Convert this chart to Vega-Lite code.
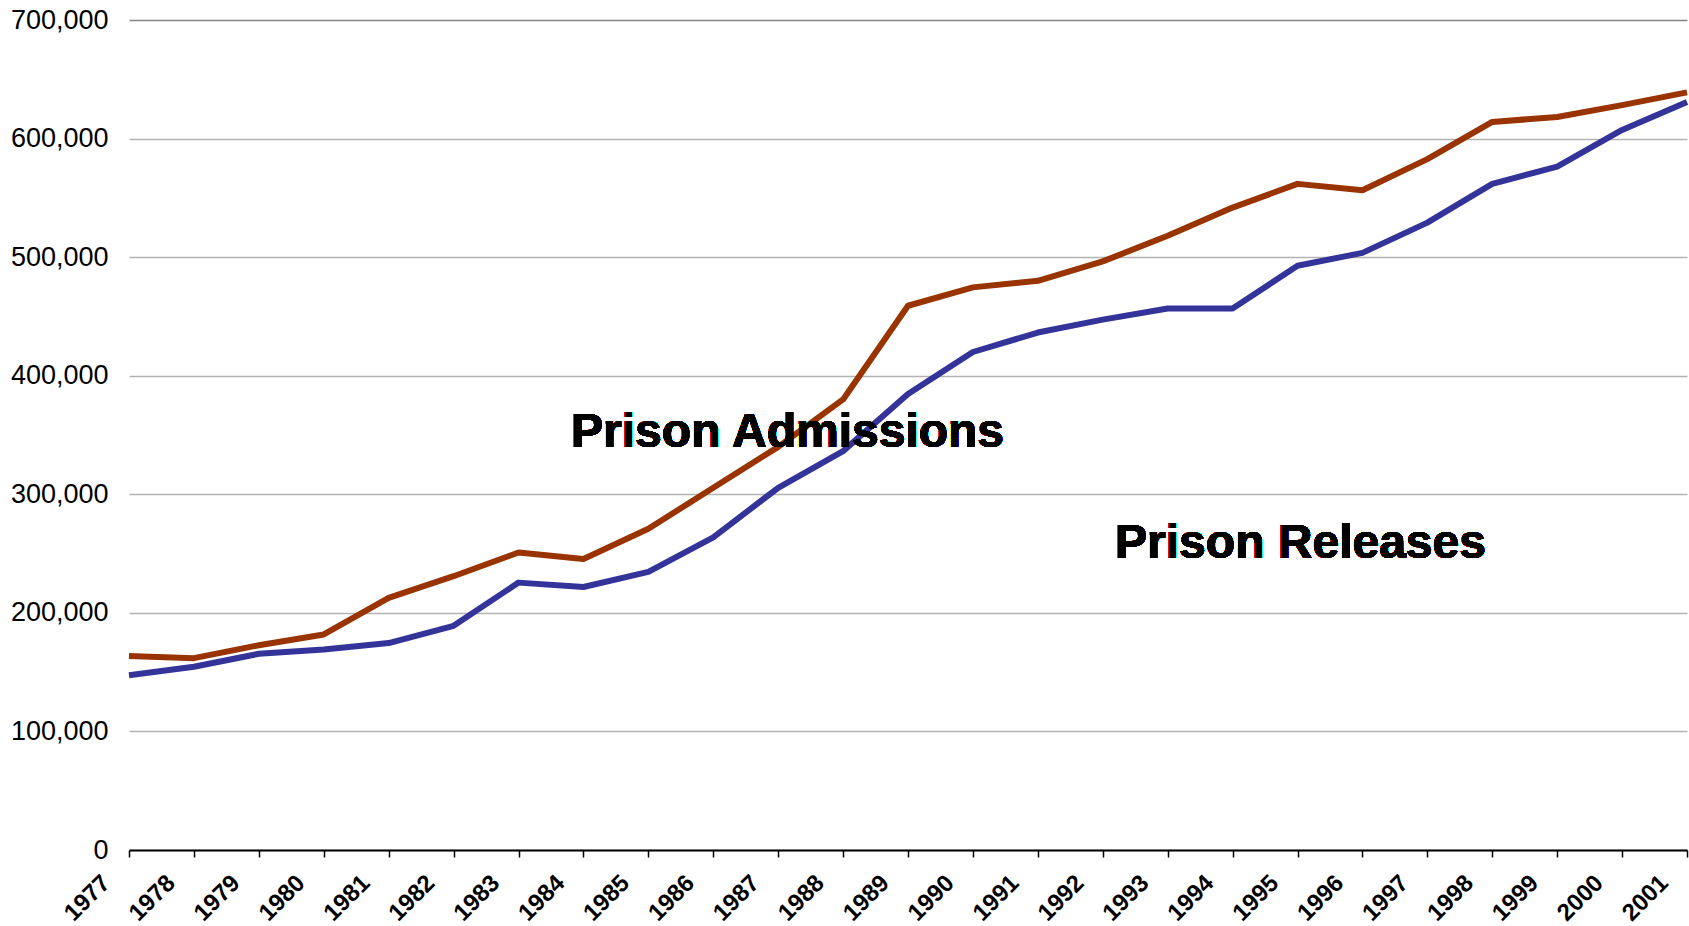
{
  "$schema": "https://vega.github.io/schema/vega-lite/v6.json",
  "width": 1558,
  "height": 830,
  "autosize": {"type": "none"},
  "padding": {"left": 129, "top": 20, "right": 2, "bottom": 76},
  "background": "white",
  "config": {"view": {"stroke": null}, "font": "Liberation Sans"},
  "data": {
    "values": [
      {"year": 1977, "series": "Prison Admissions", "value": 163600},
      {"year": 1978, "series": "Prison Admissions", "value": 161800},
      {"year": 1979, "series": "Prison Admissions", "value": 172700},
      {"year": 1980, "series": "Prison Admissions", "value": 181800},
      {"year": 1981, "series": "Prison Admissions", "value": 212700},
      {"year": 1982, "series": "Prison Admissions", "value": 230900},
      {"year": 1983, "series": "Prison Admissions", "value": 250900},
      {"year": 1984, "series": "Prison Admissions", "value": 245500},
      {"year": 1985, "series": "Prison Admissions", "value": 270900},
      {"year": 1986, "series": "Prison Admissions", "value": 305500},
      {"year": 1987, "series": "Prison Admissions", "value": 340000},
      {"year": 1988, "series": "Prison Admissions", "value": 380000},
      {"year": 1989, "series": "Prison Admissions", "value": 459000},
      {"year": 1990, "series": "Prison Admissions", "value": 474500},
      {"year": 1991, "series": "Prison Admissions", "value": 480000},
      {"year": 1992, "series": "Prison Admissions", "value": 496400},
      {"year": 1993, "series": "Prison Admissions", "value": 518000},
      {"year": 1994, "series": "Prison Admissions", "value": 541800},
      {"year": 1995, "series": "Prison Admissions", "value": 561800},
      {"year": 1996, "series": "Prison Admissions", "value": 556400},
      {"year": 1997, "series": "Prison Admissions", "value": 582700},
      {"year": 1998, "series": "Prison Admissions", "value": 614000},
      {"year": 1999, "series": "Prison Admissions", "value": 618200},
      {"year": 2000, "series": "Prison Admissions", "value": 628200},
      {"year": 2001, "series": "Prison Admissions", "value": 639000},
      {"year": 1977, "series": "Prison Releases", "value": 147300},
      {"year": 1978, "series": "Prison Releases", "value": 154500},
      {"year": 1979, "series": "Prison Releases", "value": 165500},
      {"year": 1980, "series": "Prison Releases", "value": 169100},
      {"year": 1981, "series": "Prison Releases", "value": 174500},
      {"year": 1982, "series": "Prison Releases", "value": 189100},
      {"year": 1983, "series": "Prison Releases", "value": 225500},
      {"year": 1984, "series": "Prison Releases", "value": 221800},
      {"year": 1985, "series": "Prison Releases", "value": 234500},
      {"year": 1986, "series": "Prison Releases", "value": 263600},
      {"year": 1987, "series": "Prison Releases", "value": 305500},
      {"year": 1988, "series": "Prison Releases", "value": 336400},
      {"year": 1989, "series": "Prison Releases", "value": 384500},
      {"year": 1990, "series": "Prison Releases", "value": 420000},
      {"year": 1991, "series": "Prison Releases", "value": 436400},
      {"year": 1992, "series": "Prison Releases", "value": 447300},
      {"year": 1993, "series": "Prison Releases", "value": 456700},
      {"year": 1994, "series": "Prison Releases", "value": 456700},
      {"year": 1995, "series": "Prison Releases", "value": 492700},
      {"year": 1996, "series": "Prison Releases", "value": 503600},
      {"year": 1997, "series": "Prison Releases", "value": 529100},
      {"year": 1998, "series": "Prison Releases", "value": 561800},
      {"year": 1999, "series": "Prison Releases", "value": 576400},
      {"year": 2000, "series": "Prison Releases", "value": 607300},
      {"year": 2001, "series": "Prison Releases", "value": 630900}
    ]
  },
  "layer": [
    {
      "mark": {"type": "line", "strokeWidth": 6, "strokeJoin": "round"},
      "encoding": {
        "x": {
          "field": "year",
          "type": "quantitative",
          "scale": {"domain": [1977, 2001], "nice": false, "zero": false},
          "axis": {
            "title": null,
            "values": [1977, 1978, 1979, 1980, 1981, 1982, 1983, 1984, 1985, 1986, 1987, 1988, 1989, 1990, 1991, 1992, 1993, 1994, 1995, 1996, 1997, 1998, 1999, 2000, 2001],
            "format": "d",
            "grid": false,
            "labelAngle": -45,
            "labelAlign": "right",
            "labelBaseline": "middle",
            "labelPadding": 22,
            "labelOffset": -23,
            "labelFontSize": 24,
            "labelFontWeight": "bold",
            "labelColor": "black",
            "labelOverlap": false,
            "labelFlush": false,
            "labelBound": false,
            "domainColor": "black",
            "domainWidth": 2,
            "tickColor": "black",
            "tickWidth": 1.5,
            "tickSize": 7
          }
        },
        "y": {
          "field": "value",
          "type": "quantitative",
          "scale": {"domain": [0, 700000], "nice": false},
          "axis": {
            "title": null,
            "values": [0, 100000, 200000, 300000, 400000, 500000, 600000, 700000],
            "format": ",d",
            "domain": false,
            "ticks": false,
            "tickSize": 0,
            "labelPadding": 21,
            "labelFontSize": 27,
            "labelColor": "black",
            "grid": true,
            "gridColor": {"condition": {"test": "datum.value === 700000", "value": "#858585"}, "value": "#b3b3b3"},
            "gridWidth": 1.5
          }
        },
        "color": {
          "field": "series",
          "type": "nominal",
          "scale": {"domain": ["Prison Admissions", "Prison Releases"], "range": ["#993300", "#333399"]},
          "legend": null
        }
      }
    },
    {
      "mark": {"type": "text", "align": "left", "baseline": "alphabetic", "fontSize": 48, "fontWeight": "bold", "color": "black"},
      "encoding": {
        "x": {"datum": 1983.81, "type": "quantitative"},
        "y": {"datum": 340000, "type": "quantitative"},
        "text": {"value": "Prison Admissions"}
      }
    },
    {
      "mark": {"type": "text", "align": "left", "baseline": "alphabetic", "fontSize": 48, "fontWeight": "bold", "color": "black"},
      "encoding": {
        "x": {"datum": 1992.19, "type": "quantitative"},
        "y": {"datum": 246400, "type": "quantitative"},
        "text": {"value": "Prison Releases"}
      }
    }
  ]
}
